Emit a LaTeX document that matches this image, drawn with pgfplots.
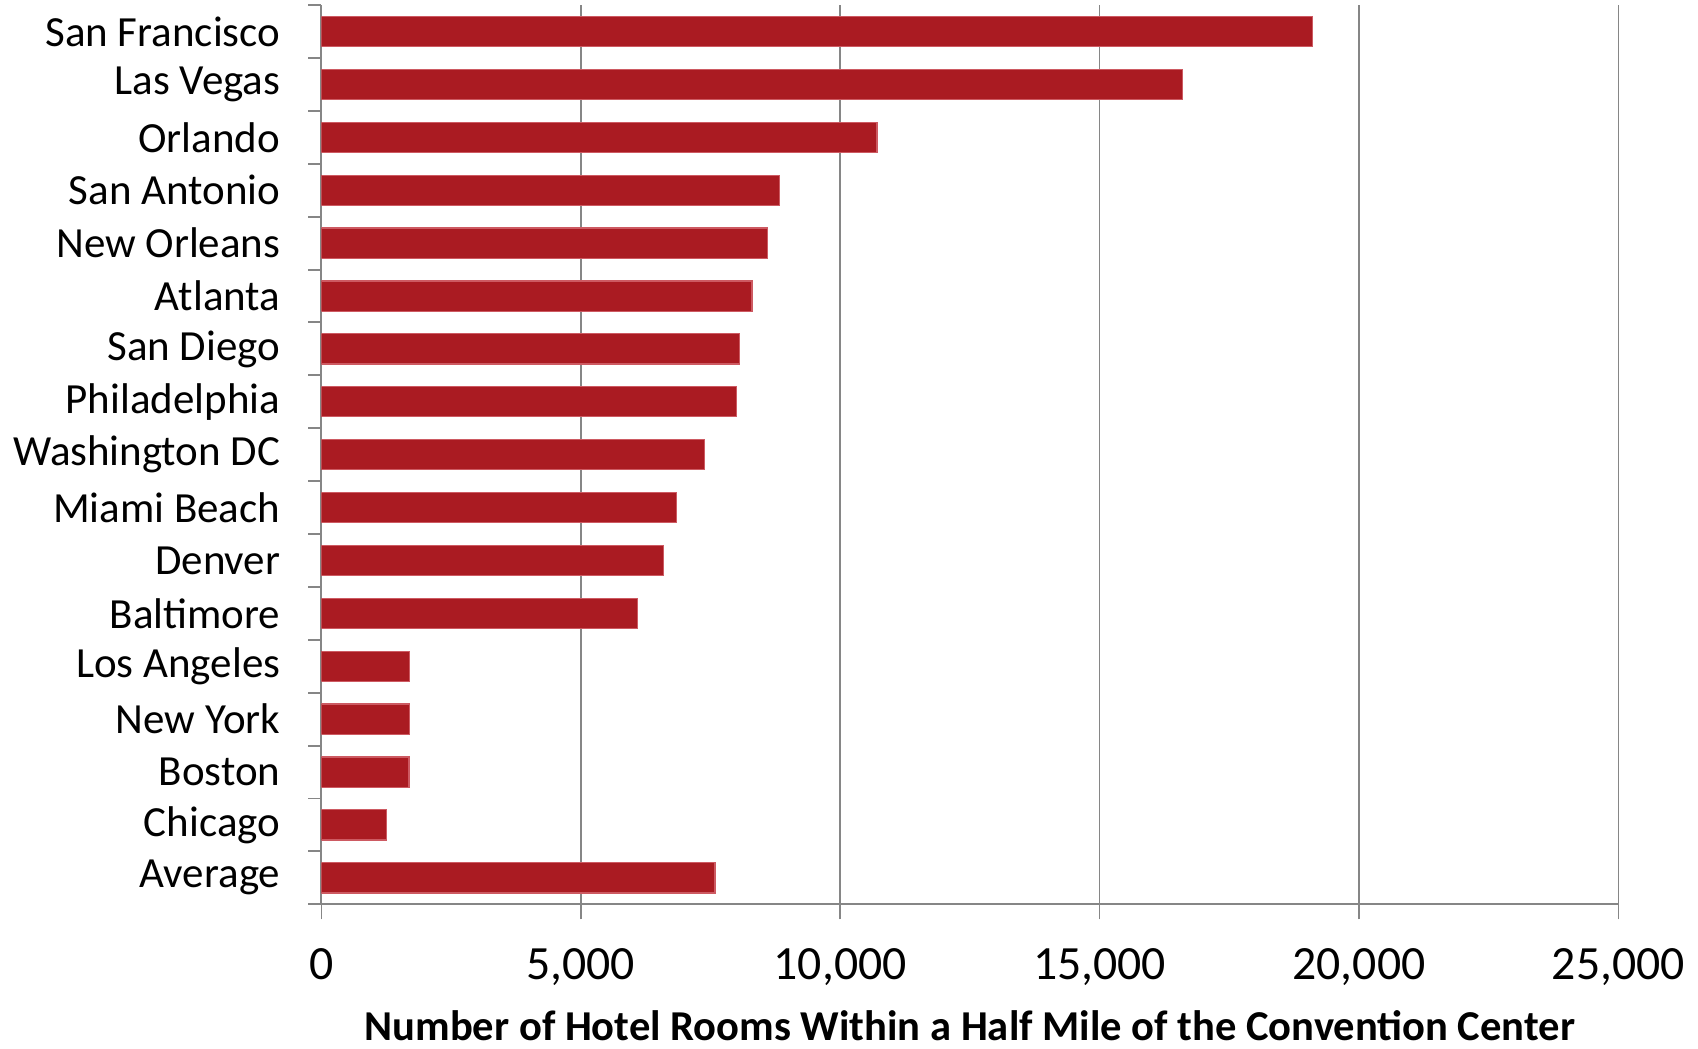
\documentclass[border=0pt]{standalone}
\usepackage{pgfplots}
\pgfplotsset{compat=1.18}
\usepackage{fontspec}
\setmainfont{Carlito}
\definecolor{barred}{RGB}{170,27,34}
\definecolor{baredge}{RGB}{205,90,98}
\definecolor{gridgray}{RGB}{134,134,134}
\begin{document}
\begin{tikzpicture}
\begin{axis}[
  width=326pt, height=226pt, scale only axis,
  xbar, bar width=0.57,
  xmin=0, xmax=25000,
  ymin=-0.5, ymax=16.5, y dir=reverse,
  axis lines*=left,
  axis line style={gridgray, line width=0.5pt},
  xtick={0,5000,10000,15000,20000,25000},
  ytick={0,...,16},
  yticklabels={San Francisco, Las Vegas, Orlando, San Antonio, New Orleans, Atlanta, San Diego, Philadelphia, Washington DC, Miami Beach, Denver, Baltimore, Los Angeles, New York, Boston, Chicago, Average},
  minor ytick={-0.5,0.5,...,16.5},
  tick align=outside,
  major tick length=3.8pt,
  minor tick length=3.3pt,
  every major y tick/.style={draw=none},
  every minor y tick/.style={gridgray, line width=0.5pt},
  every major x tick/.style={gridgray, line width=0.4pt},
  xmajorgrids=true,
  grid style={gridgray, line width=0.4pt},
  scaled x ticks=false,
  /pgf/number format/1000 sep={,},
  /pgf/number format/assume math mode=true,
  xticklabel style={font=\fontsize{12}{14}\selectfont, yshift=-3.7pt},
  yticklabel style={font=\fontsize{10.8}{13}\selectfont, xshift=-3pt},
  xlabel={\bfseries Number of Hotel Rooms Within a Half Mile of the Convention Center},
  xlabel style={font=\fontsize{10.7}{12}\selectfont, inner ysep=0.9pt, yshift=-1.9pt},
]
\addplot[fill=barred, draw=baredge, line width=0.3pt] coordinates {
  (19110,0) (16600,1) (10710,2) (8830,3) (8600,4) (8300,5) (8060,6) (8010,7)
  (7390,8) (6850,9) (6600,10) (6100,11) (1700,12) (1700,13) (1690,14) (1260,15)
  (7590,16)
};
\end{axis}
\path ([yshift=1.3pt]current axis.north);
\path ([yshift=-1pt]current axis.outer south);
\end{tikzpicture}
\end{document}
